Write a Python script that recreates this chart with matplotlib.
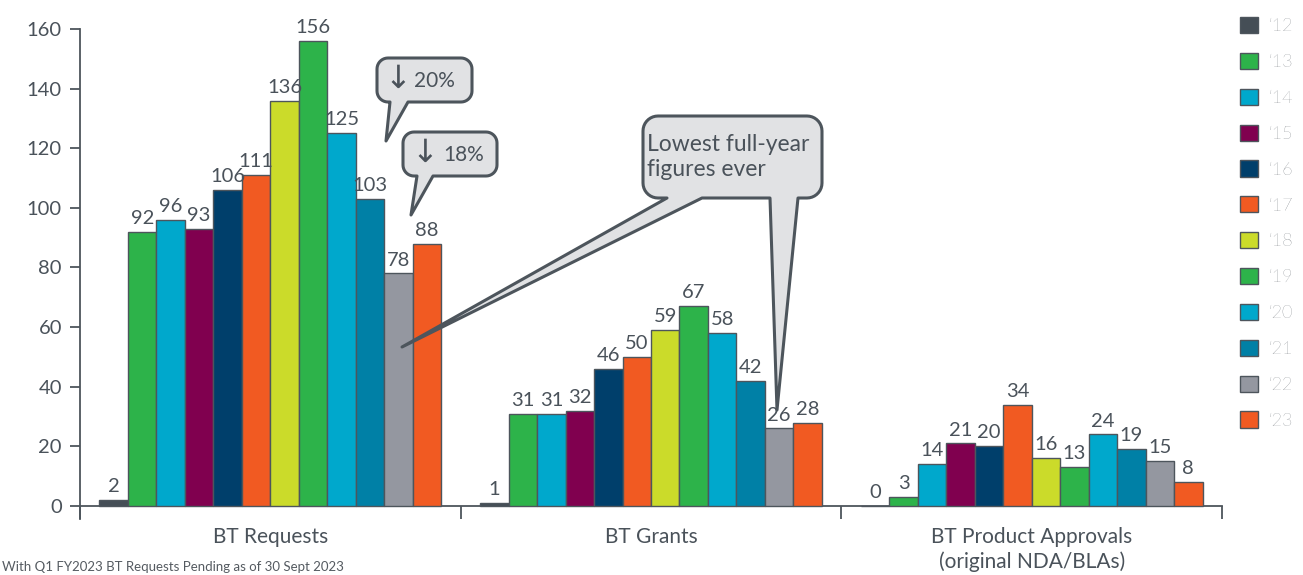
import numpy as np
import matplotlib.pyplot as plt
import matplotlib.transforms as mtransforms
from matplotlib.patches import Polygon

# ---------------------------------------------------------
#  Style
# ---------------------------------------------------------
plt.rcParams.update({
    "font.family": ["Lato", "DejaVu Sans"],
    "font.size": 14,
})

TEXT_COLOR = "#4a525a"
EDGE_COLOR = "#4d555c"
CALLOUT_BG = "#e1e2e4"

# ---------------------------------------------------------
#  Data
# ---------------------------------------------------------
categories = ["BT Requests", "BT Grants", "BT Product Approvals\n(original NDA/BLAs)"]
years = ["\u201812", "\u201813", "\u201814", "\u201815", "\u201816", "\u201817",
         "\u201818", "\u201819", "\u201820", "\u201821", "\u201822", "\u201823"]
bt_requests = [2, 92, 96, 93, 106, 111, 136, 156, 125, 103, 78, 88]
bt_grants = [1, 31, 31, 32, 46, 50, 59, 67, 58, 42, 26, 28]
bt_approvals = [0, 3, 14, 21, 20, 34, 16, 13, 24, 19, 15, 8]
year_colors = ["#454e56", "#2db34a", "#00a8cc", "#80004f", "#003f6b", "#f15a22",
               "#cbdb2a", "#2db34a", "#00a8cc", "#0080a6", "#9497a0", "#f15a22"]

W, H = 1303, 575
fig = plt.figure(figsize=(W / 100, H / 100), dpi=100)
ax = fig.add_axes([80 / W, 1 - 518.5 / H, 1142 / W, 489.5 / H])

# pixel coordinates, origin top-left
PX = mtransforms.Affine2D().scale(1 / 100, -1 / 100).translate(0, H / 100) + fig.dpi_scale_trans

# ---------------------------------------------------------
#  Bars
# ---------------------------------------------------------
x = np.arange(len(categories))
n = len(years)
bw = 0.0748
for i in range(n):
    vals = [bt_requests[i], bt_grants[i], bt_approvals[i]]
    pos = x + (i - (n - 1) / 2) * bw
    bars = ax.bar(pos, vals, bw, color=year_colors[i], edgecolor=EDGE_COLOR,
                  linewidth=1.0, label=years[i], zorder=3)
    for b, v in zip(bars, vals):
        ax.annotate(str(v), (b.get_x() + b.get_width() / 2, v),
                    xytext=(0, 3.5), textcoords="offset points",
                    ha="center", va="bottom", fontsize=14.5,
                    color=TEXT_COLOR, zorder=4)

# ---------------------------------------------------------
#  Axes
# ---------------------------------------------------------
ax.set_xlim(-0.5, 2.5)
ax.set_ylim(-4.2, 160)
ax.spines["top"].set_visible(False)
ax.spines["right"].set_visible(False)
ax.spines["bottom"].set_position(("data", 0))
for s in ("left", "bottom"):
    ax.spines[s].set_color(EDGE_COLOR)
    ax.spines[s].set_linewidth(1.3)

ax.set_yticks(np.arange(0, 161, 20))
ax.tick_params(axis="y", length=7, width=1.3, color=EDGE_COLOR,
               labelcolor=TEXT_COLOR, labelsize=14.5, pad=6)
ax.set_xticks(x)
ax.set_xticklabels(categories, fontsize=15, color=TEXT_COLOR, linespacing=1.25)
ax.tick_params(axis="x", which="major", length=0, pad=15)
ax.set_xticks([-0.5, 0.5, 1.5, 2.5], minor=True)
ax.tick_params(axis="x", which="minor", length=9, width=1.3, color=EDGE_COLOR)

# ---------------------------------------------------------
#  Legend
# ---------------------------------------------------------
leg = ax.legend(loc="upper left", bbox_to_anchor=(1240 / W, 1 - 17 / H),
                bbox_transform=fig.transFigure, frameon=False, fontsize=13,
                handlelength=1.0, handleheight=1.0, handletextpad=0.6,
                labelspacing=1.03, borderpad=0, borderaxespad=0)
for t in leg.get_texts():
    t.set_color("#50575e")
    t.set_fontweight("light")


# ---------------------------------------------------------
#  Callouts (rounded box with tails), pixel coords
# ---------------------------------------------------------
def callout(x0, y0, x1, y1, r, tails):
    pts = []

    def arc(cx, cy, a0, a1):
        for a in np.linspace(np.deg2rad(a0), np.deg2rad(a1), 10):
            pts.append((cx + r * np.cos(a), cy + r * np.sin(a)))

    arc(x1 - r, y0 + r, -90, 0)
    arc(x1 - r, y1 - r, 0, 90)
    for (bl, br, tip) in sorted(tails, key=lambda t: -t[0]):
        pts += [(br, y1), tip, (bl, y1)]
    arc(x0 + r, y1 - r, 90, 180)
    arc(x0 + r, y0 + r, 180, 270)
    poly = Polygon(pts, closed=True, transform=PX, facecolor=CALLOUT_BG,
                   edgecolor=EDGE_COLOR, linewidth=2.2, joinstyle="round",
                   clip_on=False, zorder=6)
    fig.add_artist(poly)


callout(377, 58, 472, 102, 11, [(390, 408, (386, 141))])
callout(403, 132, 497, 176, 11, [(417, 433, (411, 215))])
callout(643, 116, 822, 198, 15, [(667, 702, (402, 347)), (770, 798, (777, 410))])

fig.text(398, 79, "\u2193", transform=PX, ha="center", va="center",
         fontsize=23, color=TEXT_COLOR, family="DejaVu Sans", zorder=7)
fig.text(414, 81, "20%", transform=PX, ha="left", va="center",
         fontsize=15, color=TEXT_COLOR, zorder=7)
fig.text(425, 153, "\u2193", transform=PX, ha="center", va="center",
         fontsize=23, color=TEXT_COLOR, family="DejaVu Sans", zorder=7)
fig.text(443, 155, "18%", transform=PX, ha="left", va="center",
         fontsize=15, color=TEXT_COLOR, zorder=7)
fig.text(647, 157, "Lowest full-year\nfigures ever", transform=PX,
         ha="left", va="center", fontsize=16.5, color=TEXT_COLOR,
         linespacing=1.2, zorder=7)

# footnote at the lower edge
fig.text(2 / W, 1 - 571 / H, "With Q1 FY2023 BT Requests Pending as of 30 Sept 2023",
         ha="left", va="baseline", fontsize=9.5, color="#555b61")

fig.savefig("out.png", dpi=100, facecolor="white")
